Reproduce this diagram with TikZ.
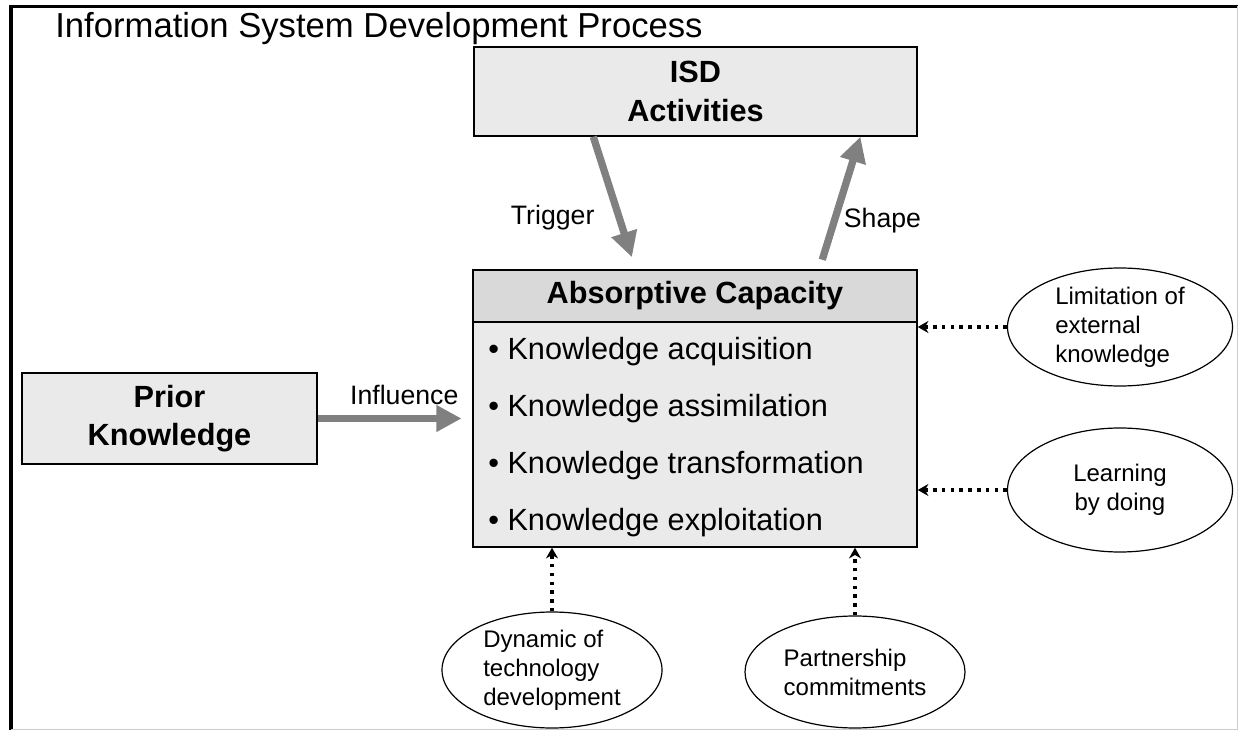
\documentclass[tikz,border=0pt]{standalone}
\usepackage{fontspec}
\setmainfont{Liberation Sans}
\usetikzlibrary{shapes.geometric,arrows.meta,calc}
\definecolor{boxfill}{HTML}{EAEAEA}
\definecolor{headfill}{HTML}{D9D9D9}
\definecolor{arrowgray}{HTML}{808080}
\tikzset{
  box/.style={draw, line width=1.1pt, fill=boxfill, inner sep=0pt, align=center},
  boxtext/.style={font=\fontsize{23}{28}\selectfont\bfseries},
  factor/.style={draw, ellipse, line width=0.9pt, inner sep=0pt, fill=white,
    font=\fontsize{18}{21.75}\selectfont},
  bigarrow/.style={draw=arrowgray, line width=5.5pt,
    -{Triangle[length=19pt,width=19pt]}},
  weakarrow/.style={line width=2.6pt, dash pattern=on 2.6pt off 4pt,
    -{Stealth[length=8pt,width=9pt]}},
  lbl/.style={font=\fontsize{20}{24}\selectfont}
}
\begin{document}
\begin{tikzpicture}[x=0.75pt, y=-0.75pt]
        \useasboundingbox (0,0) rectangle (1238,730);
        % frame of the process
        \draw[line width=2.4pt] (11,730) -- (11,6.5) -- (1238,6.5);
        \draw[black!20, line width=0.8pt] (1237.5,6.5) -- (1237.5,729.5) -- (11,729.5);
        \node[anchor=base west, inner sep=0pt, font=\fontsize{26}{30}\selectfont] (title) at (55,38)
          {Information System Development Process};

        \node[box, boxtext, minimum width=332.25pt, minimum height=66.75pt, text depth=0pt] (isd) at (695.5,91.5)
          {ISD\\[1pt]Activities};
        \node[box, boxtext, fill=headfill, minimum width=333pt, minimum height=39pt] (acap) at (695,296)
          {Absorptive Capacity};
        \node[box, minimum width=333pt, minimum height=168.75pt] (acapbody) at (695,434.5) {};
        \node[anchor=west, align=left, inner sep=0pt, font=\fontsize{23}{42.75}\selectfont] (acaplist) at (488,437)
          {• Knowledge acquisition\\• Knowledge assimilation\\• Knowledge transformation\\• Knowledge exploitation};
        \node[box, boxtext, minimum width=221.25pt, minimum height=68.25pt] (prior) at (169.5,418.5)
          {Prior\\[1pt]Knowledge};

        % factors
        \node[factor, align=left, minimum width=168.75pt, minimum height=88.5pt] (limit) at (1120,327)
          {Limitation of\\external\\knowledge};
        \node[factor, align=center, minimum width=168.75pt, minimum height=93pt] (learn) at (1120,490)
          {Learning\\by doing};
        \node[factor, align=left, minimum width=165pt, minimum height=87pt] (dyn) at (552,670)
          {Dynamic of\\technology\\development};
        \node[factor, align=left, minimum width=165pt, minimum height=84pt] (partner) at (855,672)
          {Partnership\\commitments};

        \draw[bigarrow, shorten >=9.5pt] ($(isd.south west)!.27!(isd.south east)$)
          -- ($(acap.north west)!.367!(acap.north east)$) node[lbl, left=12.5pt, pos=.61] (trig) {Trigger};
        \draw[bigarrow, shorten <=7.5pt] ($(acap.north west)!.779!(acap.north east)$)
          -- ($(isd.south west)!.871!(isd.south east)$) node[lbl, right=1pt, pos=.37] (shape) {Shape};
        \draw[bigarrow, shorten >=8pt] (prior.east) -- (prior.east -| acapbody.west)
          node[lbl, above=4pt, pos=.56] (infl) {Influence};

        \draw[weakarrow] (limit.west) -- (limit.west -| acapbody.east);
        \draw[weakarrow] (learn.west) -- (learn.west -| acapbody.east);
        \draw[weakarrow] (dyn.north) -- (dyn.north |- acapbody.south);
        \draw[weakarrow] (partner.north) -- (partner.north |- acapbody.south);
      \end{tikzpicture}
\end{document}
